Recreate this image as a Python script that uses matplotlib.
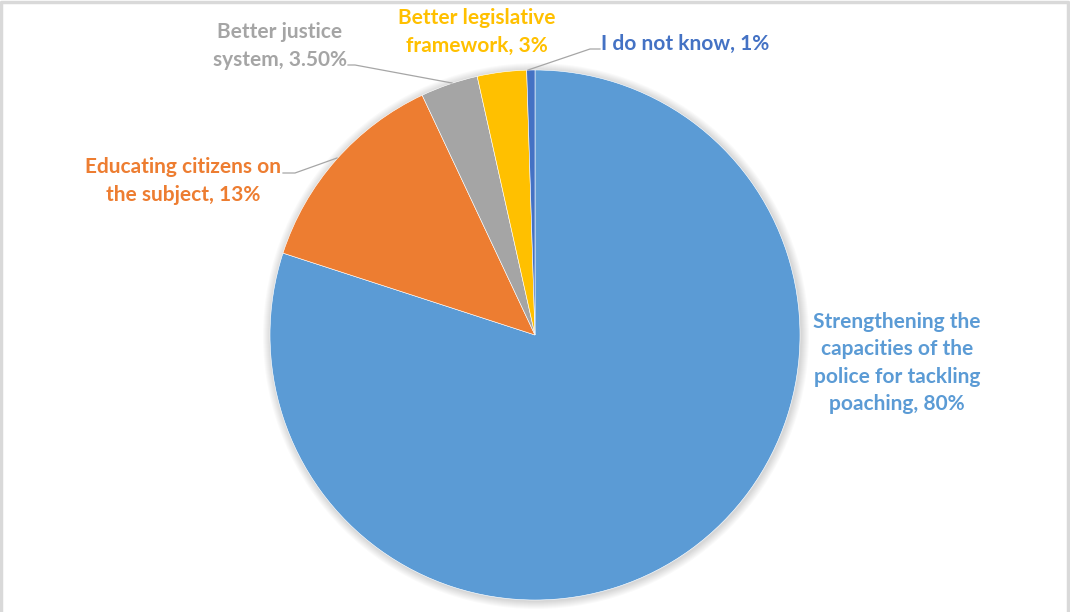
import matplotlib
matplotlib.use("Agg")
import matplotlib.pyplot as plt
from matplotlib.patches import Circle

# slice data (clockwise from 12 o'clock)
categories = ["Strengthening the capacities of the police for tackling poaching",
              "Educating citizens on the subject",
              "Better justice system",
              "Better legislative framework",
              "I do not know"]
shares = [80, 13, 3.5, 3, 0.5]
label_texts = ["Strengthening the\ncapacities of the\npolice for tackling\npoaching, 80%",
               "Educating citizens on\nthe subject, 13%",
               "Better justice\nsystem, 3.50%",
               "Better legislative\nframework, 3%",
               "I do not know, 1%"]
colors = ["#5B9BD5", "#ED7D31", "#A5A5A5", "#FFC000", "#4472C4"]
label_colors = ["#5B9BD5", "#ED7D31", "#A5A5A5", "#FFC000", "#4472C4"]

W, H = 1070, 612
fig = plt.figure(figsize=(W / 100, H / 100), dpi=100)
ax = fig.add_axes([0, 0, 1, 1])

cx, cy, r = 535, H - 335, 265

# soft shadow behind the pie
for k in range(8):
    ax.add_patch(Circle((cx + 1, cy - 1), r + 1 + k, color="black",
                        alpha=0.018, lw=0, zorder=0))
ax.add_patch(Circle((cx, cy), r, color="white", lw=0, zorder=0.5))

ax.pie(shares, colors=colors, startangle=90, counterclock=False,
       center=(cx, cy), radius=r, wedgeprops=dict(linewidth=0.4, edgecolor="white"))

ax.set_xlim(0, W)
ax.set_ylim(0, H)
ax.set_aspect("equal")
ax.axis("off")

font = dict(family=["Lato", "DejaVu Sans"], fontweight="bold", fontsize=15,
            linespacing=1.45)

# label positions in pixel coords (x, y from top)
lab_pos = [(897, 363), (183, 181), (280, 46), (477, 32), (601, 44)]
lab_ha = ["center", "center", "center", "center", "left"]
for txt, (x, y), ha, c in zip(label_texts, lab_pos, lab_ha, label_colors):
    ax.text(x, H - y, txt, color=c, ha=ha, va="center", **font)

# leader lines
leaders = [
    [(283, 173), (295, 173), (337, 158)],
    [(348, 65), (355, 65), (452, 83)],
    [(600, 49), (590, 49), (528, 70)],
]
for pts in leaders:
    ax.plot([p[0] for p in pts], [H - p[1] for p in pts], color="#A6A6A6", lw=0.9)

# light frame around the chart
ax.plot([1, 1, W - 2, W - 2], [0, H - 1.5, H - 1.5, 0], color="#D9D9D9", lw=2.5,
        clip_on=False)

fig.savefig("out.png", dpi=100, facecolor="white")
